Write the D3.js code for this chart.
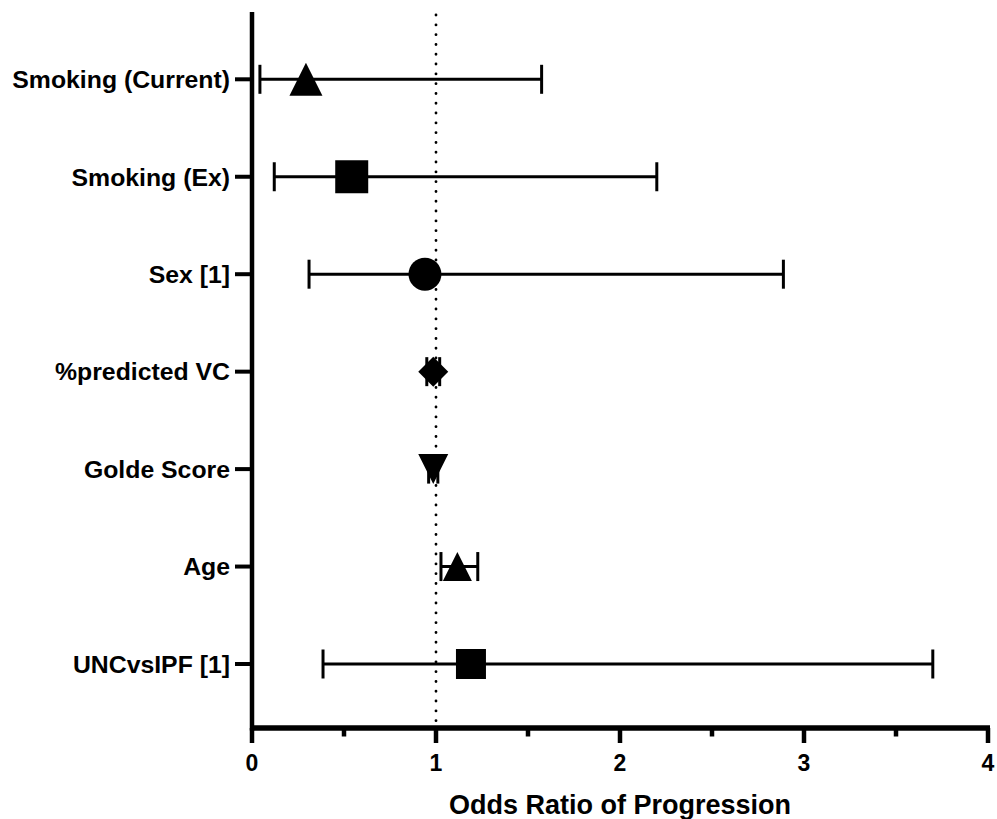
<!DOCTYPE html>
<html>
<head>
<meta charset="utf-8">
<script src="https://cdn.jsdelivr.net/npm/d3@7"></script>
<style>
  html, body { margin: 0; padding: 0; background: #fff; }
  svg { display: block; }
  text { font-family: "Liberation Sans", Arial, sans-serif; font-weight: bold; fill: #000; }
</style>
</head>
<body>
<svg id="chart" width="997" height="819"></svg>
<script>
// Odds ratios with 95% confidence intervals, one row per predictor
const categories = ["Smoking (Current)", "Smoking (Ex)", "Sex [1]", "%predicted VC", "Golde Score", "Age", "UNCvsIPF [1]"];
const oddsRatio = [0.293, 0.542, 0.940, 0.985, 0.985, 1.116, 1.190];
const ciLower   = [0.043, 0.121, 0.310, 0.950, 0.960, 1.027, 0.386];
const ciUpper   = [1.574, 2.200, 2.888, 1.020, 1.010, 1.227, 3.700];
const xTicks = [0, 1, 2, 3, 4];
const xMinorTicks = [0.5, 1.5, 2.5, 3.5];
const referenceValue = 1;

// marker shape per row
const markerShape = ["triangle", "square", "circle", "diamond", "triangleDown", "triangle", "square"];
const markerSize  = [33, 33, 33, 30, 30, 29, 30];

const svg = d3.select("#chart");

const plot = { left: 252, right: 988, top: 12, bottom: 728 };

const x = d3.scaleLinear().domain([0, 4]).range([plot.left, plot.right]);
const y = d3.scalePoint().domain(categories).range([79.3, 664]);

const rows = categories.map((c, i) => ({
  label: c, or: oddsRatio[i], lo: ciLower[i], hi: ciUpper[i],
  shape: markerShape[i], size: markerSize[i]
}));

// reference line at OR = 1
svg.append("line")
  .attr("x1", x(referenceValue)).attr("x2", x(referenceValue))
  .attr("y1", plot.top + 3).attr("y2", plot.bottom - 3)
  .attr("stroke", "#000").attr("stroke-width", 2.8)
  .attr("stroke-linecap", "round")
  .attr("stroke-dasharray", "0.1,9.7");

// error bars
const bars = svg.append("g").attr("stroke", "#000").attr("stroke-width", 3).attr("fill", "none");
const capHalf = 14.5;
rows.forEach(d => {
  const cy = y(d.label);
  bars.append("line").attr("x1", x(d.lo)).attr("x2", x(d.hi)).attr("y1", cy).attr("y2", cy);
  bars.append("line").attr("x1", x(d.lo)).attr("x2", x(d.lo)).attr("y1", cy - capHalf).attr("y2", cy + capHalf);
  bars.append("line").attr("x1", x(d.hi)).attr("x2", x(d.hi)).attr("y1", cy - capHalf).attr("y2", cy + capHalf);
});

// marker paths, centred on their bounding box
function markerPath(shape, s) {
  const h = s / 2;
  const p = d3.path();
  switch (shape) {
    case "triangle":
      p.moveTo(0, -h); p.lineTo(h, h); p.lineTo(-h, h); p.closePath(); break;
    case "triangleDown":
      p.moveTo(-h, -h); p.lineTo(h, -h); p.lineTo(0, h); p.closePath(); break;
    case "square":
      p.rect(-h, -h, s, s); break;
    case "circle":
      p.arc(0, 0, h, 0, 2 * Math.PI); break;
    case "diamond":
      p.moveTo(0, -h); p.lineTo(h, 0); p.lineTo(0, h); p.lineTo(-h, 0); p.closePath(); break;
  }
  return p.toString();
}

svg.append("g").selectAll("path")
  .data(rows)
  .join("path")
  .attr("transform", d => `translate(${x(d.or)},${y(d.label)})`)
  .attr("d", d => markerPath(d.shape, d.size))
  .attr("fill", "#000");

// y axis (spine + ticks + category labels)
svg.append("line")
  .attr("x1", plot.left).attr("x2", plot.left)
  .attr("y1", plot.top).attr("y2", plot.bottom + 2.5)
  .attr("stroke", "#000").attr("stroke-width", 4.5);

const yAxis = svg.append("g");
categories.forEach(c => {
  yAxis.append("line")
    .attr("x1", plot.left - 17).attr("x2", plot.left)
    .attr("y1", y(c)).attr("y2", y(c))
    .attr("stroke", "#000").attr("stroke-width", 4);
  yAxis.append("text")
    .attr("x", 230).attr("y", y(c))
    .attr("dy", "0.355em")
    .attr("text-anchor", "end")
    .attr("font-size", 24.8)
    .text(c);
});

// x axis
svg.append("line")
  .attr("x1", plot.left - 2).attr("x2", plot.right + 2)
  .attr("y1", plot.bottom).attr("y2", plot.bottom)
  .attr("stroke", "#000").attr("stroke-width", 5.5);

const xAxis = svg.append("g");
xTicks.forEach(t => {
  xAxis.append("line")
    .attr("x1", x(t)).attr("x2", x(t))
    .attr("y1", plot.bottom).attr("y2", plot.bottom + 15)
    .attr("stroke", "#000").attr("stroke-width", 4.5);
  xAxis.append("text")
    .attr("x", x(t)).attr("y", 771)
    .attr("text-anchor", "middle")
    .attr("font-size", 23)
    .text(t);
});
xMinorTicks.forEach(t => {
  xAxis.append("line")
    .attr("x1", x(t)).attr("x2", x(t))
    .attr("y1", plot.bottom).attr("y2", plot.bottom + 8.5)
    .attr("stroke", "#000").attr("stroke-width", 4.5);
});

svg.append("text")
  .attr("x", (plot.left + plot.right) / 2).attr("y", 814)
  .attr("text-anchor", "middle")
  .attr("font-size", 27)
  .text("Odds Ratio of Progression");
</script>
</body>
</html>
